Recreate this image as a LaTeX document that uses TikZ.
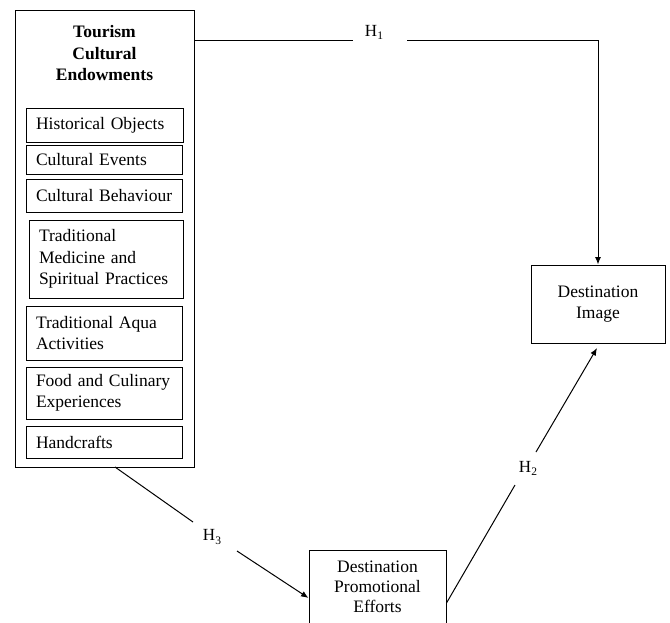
\documentclass[tikz,border=0pt]{standalone}
\usepackage{fontspec}
\setmainfont{Liberation Serif}[WordSpace=0.7]
\usetikzlibrary{arrows.meta}
\hyphenpenalty=10000
\exhyphenpenalty=10000
\hfuzz=50pt
\newcommand\hsub[1]{\raisebox{-0.4ex}{\fontsize{11.5}{11.5}\selectfont #1}}
\begin{document}
\begin{tikzpicture}[x=1pt,y=-1pt,line width=1pt,
  box/.style={draw, rectangle, inner ysep=0pt, font=\fontsize{17.5}{21.5}\selectfont},
  subbox/.style={box, align=left, inner xsep=10pt},
  cbox/.style={box, align=center, inner xsep=0pt},
  lbl/.style={inner sep=0pt, font=\fontsize{17}{18}\selectfont},
  arr/.style={-{Latex[length=7.5pt,width=6pt]}}]
\clip (0,0) rectangle (670,622);
% main box
\node[draw, rectangle, inner sep=0pt, minimum width=179pt, minimum height=457pt] (ced) at (104.5,238.5) {};
\node[align=center, inner sep=0pt, font=\bfseries\fontsize{17.5}{21.5}\selectfont] (title) at (104.5,53.5) {Tourism\\Cultural\\Endowments};
\node[subbox, text width=137pt, minimum height=34pt] (b1) at (104.5,125) {\mbox{Historical Objects}};
\node[subbox, text width=136pt, minimum height=29pt] (b2) at (104,159.5) {\mbox{Cultural Events}};
\node[subbox, text width=136pt, minimum height=33pt] (b3) at (104,195.5) {\mbox{Cultural Behaviour}};
\node[subbox, text width=134pt, minimum height=78pt] (b4) at (106,259) {Traditional\\Medicine and\\\mbox{Spiritual Practices}};
\node[subbox, text width=136pt, minimum height=54pt] (b5) at (104,333) {\mbox{Traditional Aqua}\\Activities};
\node[subbox, text width=136pt, minimum height=52pt] (b6) at (104,393) {\mbox{Food and Culinary}\\Experiences};
\node[subbox, text width=136pt, minimum height=32pt] (b7) at (104,442) {Handcrafts};
% right boxes
\node[cbox, minimum width=134pt, minimum height=78pt] (di) at (598,304) {Destination\\Image};
\node[cbox, minimum width=137pt, minimum height=74pt, font=\fontsize{17.5}{20}\selectfont] (dpe) at (377.5,587) {Destination\\Promotional\\Efforts};
% H1
\coordinate (h1s) at (ced.north east |- 0,40);
\coordinate (h1g1) at (353,40);
\coordinate (h1g2) at (407,40);
\draw (h1s) -- (h1g1);
\draw[arr] (h1g2) -| (di.north);
\node[lbl] (h1) at (374,32) {H\hsub{1}};
% H2
\coordinate (h2s) at (dpe.east |- 0,603);
\coordinate (h2g1) at (515,485);
\coordinate (h2g2) at (536,452);
\coordinate (h2e) at (597,348);
\draw (h2s) -- (h2g1);
\draw[arr] (h2g2) -- (h2e);
\node[lbl] (h2) at (528,468) {H\hsub{2}};
% H3
\coordinate (h3s) at (115,467);
\coordinate (h3g1) at (193,522);
\coordinate (h3g2) at (237,551);
\coordinate (h3e) at (dpe.west |- 0,598);
\draw (h3s) -- (h3g1);
\draw[arr] (h3g2) -- (h3e);
\node[lbl] (h3) at (212,537) {H\hsub{3}};
\end{tikzpicture}
\end{document}
